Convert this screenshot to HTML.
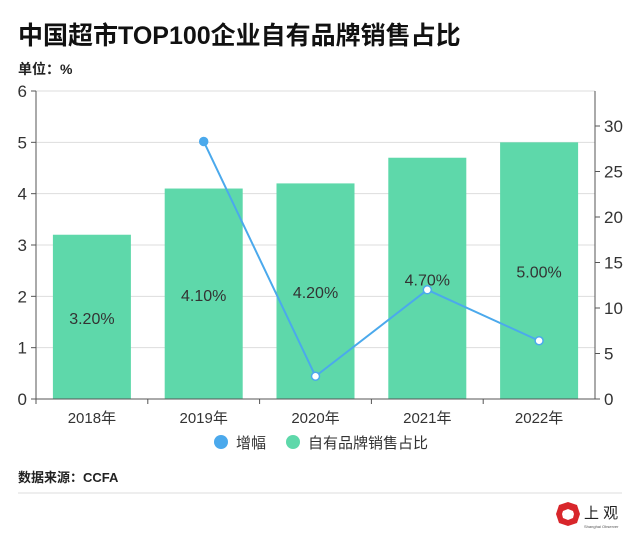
<!DOCTYPE html>
<html><head><meta charset="utf-8"><style>
body{margin:0;background:#fff;width:640px;height:544px;overflow:hidden;font-family:"Liberation Sans","Noto Sans CJK SC",sans-serif}
</style></head><body>
<svg width="640" height="544" id="c" xmlns="http://www.w3.org/2000/svg">
<text x="18" y="44" font-size="25" font-weight="bold" fill="#111">中国超市TOP100企业自有品牌销售占比</text>
<text x="18" y="74" font-size="14" font-weight="bold" fill="#222">单位：%</text>
<text x="18" y="482" font-size="13" font-weight="bold" fill="#222">数据来源：CCFA</text>
<line x1="18" y1="493" x2="622" y2="493" stroke="#ddd"/>
<g>
<polygon points="568,502 577,505 580,514 577,523 568,526 559,523 556,514 559,505" fill="#d8262b"/>
<polygon points="568,509 573,511 574,514 573,518 568,520 563,518 562,514 563,511" fill="#fff"/>
<text x="584" y="518" font-size="15" fill="#222">上 观</text>
<text x="584" y="528" font-size="4" fill="#555">Shanghai Observer</text>
</g>
<g id="g"></g>
</svg>
<script>
const categories=["2018年","2019年","2020年","2021年","2022年"];
const shareValues=[3.2,4.1,4.2,4.7,5.0];
const shareLabels=["3.20%","4.10%","4.20%","4.70%","5.00%"];
const growthValues=[null,28.3,2.5,12.0,6.4];
const leftTicks=[0,1,2,3,4,5,6];
const rightTicks=[0,5,10,15,20,25,30];
const NS="http://www.w3.org/2000/svg";
const g=document.getElementById('g');
const X0=36,X1=595,Y0=399,Y1=91;
const yL=v=>Y0-(v/6)*(Y0-Y1);
const yR=v=>Y0-v*9.1;
const bw=(X1-X0)/categories.length;
const xC=i=>X0+bw*(i+0.5);
function mk(t,a,p){const e=document.createElementNS(NS,t);for(const k in a)e.setAttribute(k,a[k]);(p||g).appendChild(e);return e;}
leftTicks.forEach(v=>{
 const l=mk('line',{x1:X0,x2:X1,y1:yL(v),y2:yL(v),stroke:'#ddd'});
 
 
 mk('line',{x1:X0-5,x2:X0,y1:yL(v),y2:yL(v),stroke:'#555'});
 const t=mk('text',{x:X0-9,y:yL(v)+6,'text-anchor':'end','font-size':17,fill:'#333'});t.textContent=v;
 
 
});
rightTicks.forEach(v=>{
 mk('line',{x1:X1,x2:X1+5,y1:yR(v),y2:yR(v),stroke:'#555'});
 const t=mk('text',{x:X1+9,y:yR(v)+6,'font-size':17,fill:'#333'});t.textContent=v;
 
 
});
categories.forEach((c,i)=>{
 const h=Y0-yL(shareValues[i]);
 const r=mk('rect',{x:xC(i)-39,y:yL(shareValues[i]),width:78,height:h,fill:'#5ed8aa'});
 
 
 const t=mk('text',{x:xC(i),y:yL(shareValues[i])+h/2+7,'text-anchor':'middle','font-size':16,fill:'#333'});t.textContent=shareLabels[i];
 
 
 mk('line',{x1:X0+bw*i,x2:X0+bw*i,y1:Y0,y2:Y0+5,stroke:'#555'});
 const x=mk('text',{x:xC(i),y:Y0+24,'text-anchor':'middle','font-size':15,fill:'#333'});x.textContent=c;
 
 
});
mk('line',{x1:X0,x2:X0,y1:Y1,y2:Y0,stroke:'#555'});
mk('line',{x1:X1,x2:X1,y1:Y1,y2:Y0,stroke:'#555'});
mk('line',{x1:X0,x2:X1,y1:Y0,y2:Y0,stroke:'#555'});
const pts=[];growthValues.forEach((v,i)=>{if(v!==null)pts.push([xC(i),yR(v)]);});
const pl=mk('polyline',{points:pts.map(p=>p.join(',')).join(' '),fill:'none',stroke:'#4ba9ec','stroke-width':2});


pts.forEach((p,k)=>{
 const c=mk('circle',{cx:p[0],cy:p[1],r:4,fill:k===0?'#4ba9ec':'#fff',stroke:'#4ba9ec','stroke-width':1.5});
 
 
});
const lg=mk('g',{});


const c1=mk('circle',{cx:221,cy:442,r:7,fill:'#4ba9ec'},lg);


const t1=mk('text',{x:236,y:448,'font-size':15,fill:'#333'},lg);t1.textContent='增幅';


const c2=mk('circle',{cx:293,cy:442,r:7,fill:'#5ed8aa'},lg);


const t2=mk('text',{x:308,y:448,'font-size':15,fill:'#333'},lg);t2.textContent='自有品牌销售占比';


</script>
</body></html>
